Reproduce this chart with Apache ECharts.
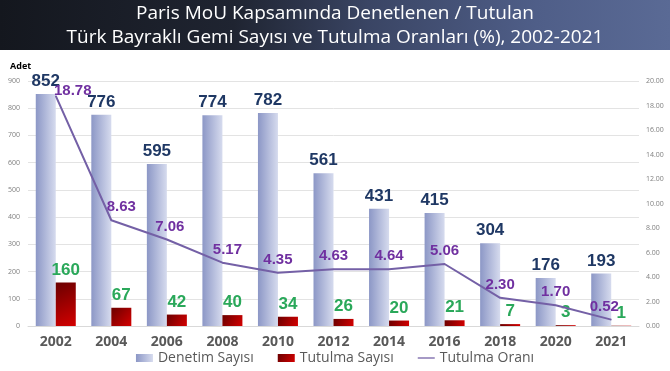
<!DOCTYPE html>
<html><head><meta charset="utf-8">
<script src="https://cdn.jsdelivr.net/npm/echarts@6/dist/echarts.min.js"></script>
<style>html,body{margin:0;padding:0;background:#fff}#c{width:670px;height:371px}</style>
</head><body><div id="c"></div>
<script>
var years = ['2002','2004','2006','2008','2010','2012','2014','2016','2018','2020','2021'];
var denetim = [852,776,595,774,782,561,431,415,304,176,193];
var tutulma = [160,67,42,40,34,26,20,21,7,3,1];
var oran = [18.78,8.63,7.06,5.17,4.35,4.63,4.64,5.06,2.30,1.70,0.52];
var leftTicks = {min:0, max:900, interval:100};
var rightTicks = {min:0, max:20, interval:2};
var oranLabelOffsets = [[17,8],[10,0],[3,0],[5,0],[0,0],[0,0],[0,0],[0,0],[0,0],[0,0],[-7,0]];

var FONT = '"Open Sans", "Noto Sans", sans-serif';
var NARROW = '"Liberation Sans", Arial, sans-serif';
var chart = echarts.init(document.getElementById('c'), null, {renderer:'canvas'});

var blueGrad = new echarts.graphic.LinearGradient(0,0,1,0,[{offset:0,color:'#8c97c6'},{offset:1,color:'#d6dbee'}]);
var redGrad = new echarts.graphic.LinearGradient(0,0,1,1,[{offset:0,color:'#6a0000'},{offset:1,color:'#d40000'}]);

chart.setOption({
  animation:false,
  backgroundColor:'#ffffff',
  graphic:[
    {type:'rect', z:-1, shape:{x:0,y:0,width:670,height:50},
     style:{fill:new echarts.graphic.LinearGradient(0,0,1,0.3,[
       {offset:0,color:'#14171e'},{offset:0.35,color:'#1f2431'},{offset:0.55,color:'#3a4564'},{offset:0.8,color:'#4f5e88'},{offset:1,color:'#5a6a95'}])}},
    {type:'text', left:'center', top:4, style:{text:'Paris MoU Kapsamında Denetlenen / Tutulan', fill:'#ffffff', font:'19px '+FONT}},
    {type:'text', left:'center', top:28, style:{text:'Türk Bayraklı Gemi Sayısı ve Tutulma Oranları (%), 2002-2021', fill:'#ffffff', font:'19px '+FONT}},
    {type:'text', left:10, top:62, style:{text:'Adet', fill:'#000000', font:'bold 9px '+FONT}}
  ],
  grid:{left:28, right:31, top:81, bottom:45},
  legend:{
    bottom:1, left:'center', itemWidth:17, itemHeight:8, itemGap:24,
    textStyle:{color:'#595959', fontSize:14, fontFamily:FONT},
    data:[
      {name:'Denetim Sayısı', icon:'rect'},
      {name:'Tutulma Sayısı', icon:'rect'},
      {name:'Tutulma Oranı', icon:'path://M0,4 L20,4 L20,5.5 L0,5.5 Z'}
    ]
  },
  xAxis:{
    type:'category', data:years,
    axisLine:{lineStyle:{color:'#d9d9d9'}}, axisTick:{show:false},
    axisLabel:{color:'#595959', fontWeight:'bold', fontSize:14, fontFamily:FONT, margin:9}
  },
  yAxis:[
    {type:'value', min:leftTicks.min, max:leftTicks.max, interval:leftTicks.interval,
     axisLabel:{color:'#7f7f7f', fontSize:7, fontFamily:FONT, margin:8},
     splitLine:{lineStyle:{color:'#e3e3e3'}}, axisLine:{show:false}, axisTick:{show:false}},
    {type:'value', min:rightTicks.min, max:rightTicks.max, interval:rightTicks.interval,
     axisLabel:{color:'#7f7f7f', fontSize:7, fontFamily:FONT, margin:7, formatter:function(v){return v.toFixed(2);}},
     splitLine:{show:false}, axisLine:{show:false}, axisTick:{show:false}}
  ],
  series:[
    {name:'Denetim Sayısı', type:'bar', data:denetim, barWidth:20, barGap:'0%',
     itemStyle:{color:blueGrad},
     label:{show:true, position:'top', distance:4, color:'#1f3864', fontWeight:'bold', fontSize:17, fontFamily:NARROW}},
    {name:'Tutulma Sayısı', type:'bar', data:tutulma, barWidth:20, barGap:'0%',
     itemStyle:{color:redGrad},
     label:{show:true, position:'top', distance:4, color:'#2aa85a', fontWeight:'bold', fontSize:17, fontFamily:NARROW}},
    {name:'Tutulma Oranı', type:'line', yAxisIndex:1, symbol:'circle', symbolSize:1, showSymbol:true, z:5,
     lineStyle:{color:'#7460a6', width:2}, itemStyle:{color:'#7460a6'},
     data:oran.map(function(v,i){return {value:v, label:{show:true, offset:oranLabelOffsets[i]}};}),
     label:{show:true, position:'top', distance:5, color:'#7030a0', fontWeight:'bold', fontSize:15, fontFamily:NARROW,
       formatter:function(p){return p.value.toFixed(2);}}}
  ]
});
</script></body></html>
